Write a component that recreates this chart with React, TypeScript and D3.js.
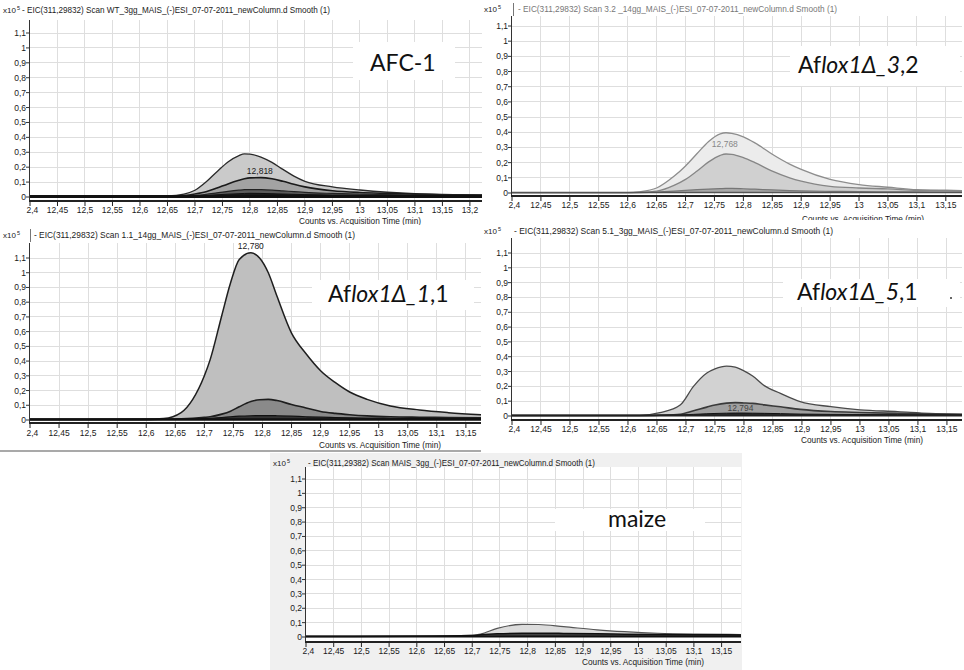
import { useEffect, useRef } from "react";
import * as d3 from "d3";

// tick values shared by all five chromatograms
const xTickValues = [12.4, 12.45, 12.5, 12.55, 12.6, 12.65, 12.7, 12.75, 12.8, 12.85, 12.9, 12.95, 13, 13.05, 13.1, 13.15, 13.2];
const yTickValues = [0, 0.1, 0.2, 0.3, 0.4, 0.5, 0.6, 0.7, 0.8, 0.9, 1, 1.1];

// AFC-1 (wild type)
const afcTime = [12.4, 12.6, 12.65, 12.68, 12.7, 12.72, 12.74, 12.76, 12.78, 12.79, 12.8, 12.82, 12.84, 12.86, 12.88, 12.9, 12.95, 13.0, 13.05, 13.1, 13.15, 13.2, 13.23];
const afcOuter = [0.006, 0.006, 0.008, 0.02, 0.045, 0.1, 0.17, 0.235, 0.278, 0.289, 0.287, 0.268, 0.232, 0.185, 0.14, 0.105, 0.068, 0.047, 0.032, 0.022, 0.017, 0.014, 0.012];
const afcMid = [0.004, 0.004, 0.005, 0.01, 0.02, 0.035, 0.06, 0.088, 0.112, 0.122, 0.128, 0.13, 0.122, 0.105, 0.085, 0.068, 0.042, 0.03, 0.024, 0.019, 0.015, 0.013, 0.012];
const afcDark = [0.003, 0.003, 0.004, 0.006, 0.01, 0.018, 0.028, 0.038, 0.046, 0.049, 0.05, 0.049, 0.046, 0.041, 0.036, 0.031, 0.024, 0.019, 0.016, 0.014, 0.013, 0.012, 0.011];
const afcBlack = [0.002, 0.002, 0.003, 0.004, 0.006, 0.01, 0.015, 0.019, 0.022, 0.024, 0.025, 0.024, 0.022, 0.02, 0.018, 0.016, 0.013, 0.011, 0.01, 0.009, 0.009, 0.008, 0.008];

// Aflox1Δ_3,2
const lox3Time = [12.4, 12.6, 12.62, 12.65, 12.68, 12.7, 12.72, 12.74, 12.76, 12.77, 12.78, 12.8, 12.82, 12.85, 12.88, 12.9, 12.95, 13.0, 13.05, 13.1, 13.15, 13.18];
const lox3Outer = [0.003, 0.003, 0.008, 0.033, 0.11, 0.178, 0.26, 0.34, 0.39, 0.397, 0.393, 0.37, 0.33, 0.255, 0.19, 0.155, 0.089, 0.055, 0.038, 0.022, 0.018, 0.016];
const lox3Mid = [0.002, 0.002, 0.004, 0.012, 0.05, 0.09, 0.145, 0.205, 0.248, 0.257, 0.255, 0.233, 0.2, 0.144, 0.1, 0.078, 0.044, 0.033, 0.027, 0.018, 0.015, 0.014];
const lox3Low = [0.002, 0.002, 0.003, 0.006, 0.012, 0.017, 0.022, 0.026, 0.029, 0.03, 0.03, 0.028, 0.025, 0.02, 0.016, 0.014, 0.011, 0.009, 0.008, 0.007, 0.006, 0.006];

// Aflox1Δ_1,1
const lox1Time = [12.4, 12.6, 12.63, 12.66, 12.68, 12.7, 12.71, 12.73, 12.745, 12.76, 12.78, 12.795, 12.81, 12.825, 12.85, 12.875, 12.9, 12.925, 12.95, 12.98, 13.02, 13.07, 13.12, 13.18];
const lox1Outer = [0.005, 0.006, 0.01, 0.05, 0.14, 0.3, 0.41, 0.71, 0.93, 1.09, 1.135, 1.1, 1.0, 0.84, 0.59, 0.45, 0.335, 0.255, 0.19, 0.14, 0.095, 0.068, 0.05, 0.034];
const lox1Mid = [0.004, 0.004, 0.005, 0.008, 0.012, 0.018, 0.022, 0.04, 0.06, 0.09, 0.125, 0.138, 0.14, 0.132, 0.105, 0.082, 0.058, 0.045, 0.036, 0.028, 0.022, 0.019, 0.017, 0.015];
const lox1Dark = [0.003, 0.003, 0.004, 0.005, 0.007, 0.01, 0.012, 0.017, 0.022, 0.026, 0.029, 0.03, 0.03, 0.029, 0.026, 0.022, 0.019, 0.017, 0.015, 0.013, 0.012, 0.011, 0.01, 0.01];

// Aflox1Δ_5,1
const lox5Time = [12.4, 12.62, 12.655, 12.69, 12.713, 12.736, 12.75, 12.77, 12.785, 12.8, 12.815, 12.835, 12.863, 12.897, 12.95, 13.0, 13.065, 13.12, 13.18];
const lox5Outer = [0.004, 0.004, 0.022, 0.074, 0.2, 0.29, 0.318, 0.337, 0.33, 0.305, 0.27, 0.205, 0.153, 0.097, 0.063, 0.042, 0.03, 0.018, 0.011];
const lox5Mid = [0.003, 0.003, 0.006, 0.012, 0.035, 0.06, 0.074, 0.087, 0.09, 0.088, 0.085, 0.075, 0.062, 0.045, 0.03, 0.024, 0.018, 0.014, 0.011];
const lox5Dark = [0.002, 0.002, 0.004, 0.007, 0.011, 0.015, 0.017, 0.019, 0.02, 0.02, 0.019, 0.018, 0.016, 0.013, 0.011, 0.01, 0.009, 0.008, 0.007];

// maize control
const maizeTime = [12.4, 12.6, 12.7, 12.715, 12.745, 12.79, 12.82, 12.865, 12.925, 12.975, 13.035, 13.105, 13.2, 13.26];
const maizeOuter = [0.004, 0.006, 0.012, 0.02, 0.06, 0.088, 0.087, 0.072, 0.05, 0.037, 0.026, 0.02, 0.017, 0.016];
const maizeInner = [0.003, 0.005, 0.01, 0.015, 0.022, 0.026, 0.026, 0.025, 0.023, 0.02, 0.018, 0.016, 0.014, 0.013];

const fmt = (v: number) => String(+v.toFixed(2)).replace(".", ",");
const smallFont = "'Liberation Sans', 'DejaVu Sans', sans-serif";
const bigFont = "Lato, 'Open Sans', sans-serif";

const panels = [
  {
    id: "afc",
    box: [0, 0, 481, 225], bg: "#fff",
    left: 30, right: 482, xMax: 13.222, zeroY: 197, topY: 33, plotTop: 20, axisY: 201,
    tickLabelY: 213, countsX: 360, countsY: 224,
    expX: 3, headerX: 22, headerW: 308, headerY: 13, headerColor: "#222", bar: null,
    header: "- EIC(311,29832) Scan WT_3gg_MAIS_(-)ESI_07-07-2011_newColumn.d  Smooth (1)",
    times: afcTime,
    traces: [
      { values: afcOuter, fill: "#cacaca", stroke: "#2a2a2a", w: 1.3 },
      { values: afcMid, fill: "#a3a3a3", stroke: "#1a1a1a", w: 1.6 },
      { values: afcDark, fill: "#5c5c5c", stroke: "#222", w: 1.2 },
      { values: afcBlack, fill: "#1a1a1a", stroke: "#111", w: 1 },
    ],
    baseColor: "#111", baseW: 3,
    peak: { text: "12,818", t: 12.818, v: 0.155, color: "#1a1a1a" },
    labelBox: [353, 42, 102, 38], labelX: 370, labelY: 71, labelSize: 23,
    label: [{ t: "AFC-1", i: false }],
  },
  {
    id: "lox3",
    box: [482, 0, 482, 220], bg: "#fff",
    left: 512, right: 962, xMax: 13.178, zeroY: 193, topY: 26, plotTop: 16, axisY: 196,
    tickLabelY: 208, countsX: 863, countsY: 222,
    expX: 484, headerX: 518, headerW: 319, headerY: 12, headerColor: "#777", bar: 513,
    header: "- EIC(311,29832) Scan 3.2 _14gg_MAIS_(-)ESI_07-07-2011_newColumn.d  Smooth (1)",
    times: lox3Time,
    traces: [
      { values: lox3Outer, fill: "#ececec", stroke: "#8d8d8d", w: 1.3 },
      { values: lox3Mid, fill: "#d0d0d0", stroke: "#868686", w: 1.3 },
      { values: lox3Low, fill: "#a8a8a8", stroke: "#777", w: 1.2 },
    ],
    baseColor: "#555", baseW: 1.5,
    peak: { text: "12,768", t: 12.768, v: 0.3, color: "#888" },
    labelBox: [790, 46, 170, 40], labelX: 798, labelY: 73, labelSize: 23,
    label: [{ t: "Af", i: false }, { t: "lox1Δ_3", i: true }, { t: ",2", i: false }],
  },
  {
    id: "lox1",
    box: [0, 225, 481, 227], bg: "#fff",
    left: 30, right: 481, xMax: 13.176, zeroY: 420, topY: 258, plotTop: 243, axisY: 423,
    tickLabelY: 436, countsX: 380, countsY: 448,
    expX: 3, headerX: 34, headerW: 321, headerY: 238, headerColor: "#222", bar: 30,
    header: "- EIC(311,29832) Scan 1.1_14gg_MAIS_(-)ESI_07-07-2011_newColumn.d  Smooth (1)",
    times: lox1Time,
    traces: [
      { values: lox1Outer, fill: "#bfbfbf", stroke: "#1e1e1e", w: 1.5 },
      { values: lox1Mid, fill: "#8a8a8a", stroke: "#1e1e1e", w: 1.6 },
      { values: lox1Dark, fill: "#333", stroke: "#111", w: 1.2 },
    ],
    baseColor: "#111", baseW: 2.5,
    peak: { text: "12,780", t: 12.78, v: 1.16, color: "#1a1a1a" },
    labelBox: [312, 280, 162, 30], labelX: 328, labelY: 302, labelSize: 23,
    label: [{ t: "Af", i: false }, { t: "lox1Δ_1", i: true }, { t: ",1", i: false }],
    bottomLine: 451,
  },
  {
    id: "lox5",
    box: [482, 220, 482, 230], bg: "#fff",
    left: 512, right: 962, xMax: 13.176, zeroY: 416, topY: 253, plotTop: 238, axisY: 420,
    tickLabelY: 432, countsX: 862, countsY: 443,
    expX: 484, headerX: 514, headerW: 319, headerY: 234, headerColor: "#222", bar: null,
    header: "- EIC(311,29832) Scan 5.1_3gg_MAIS_(-)ESI_07-07-2011_newColumn.d  Smooth (1)",
    times: lox5Time,
    traces: [
      { values: lox5Outer, fill: "#d2d2d2", stroke: "#4a4a4a", w: 1.3 },
      { values: lox5Mid, fill: "#a0a0a0", stroke: "#3a3a3a", w: 1.6 },
      { values: lox5Dark, fill: "#2a2a2a", stroke: "#111", w: 1 },
    ],
    baseColor: "#222", baseW: 2,
    peak: { text: "12,794", t: 12.794, v: 0.035, color: "#444" },
    labelBox: [783, 279, 177, 28], labelX: 797, labelY: 300, labelSize: 23,
    label: [{ t: "Af", i: false }, { t: "lox1Δ_5", i: true }, { t: ",1", i: false }],
    dot: [951, 298],
  },
  {
    id: "maize",
    box: [270, 453, 472, 217], bg: "#f0f0f0",
    left: 306, right: 741, xMax: 13.185, zeroY: 637, topY: 479, plotTop: 467, axisY: 642,
    tickLabelY: 654, countsX: 643, countsY: 665,
    expX: 273, headerX: 308, headerW: 287, headerY: 466, headerColor: "#222", bar: null,
    header: "- EIC(311,29382) Scan MAIS_3gg_(-)ESI_07-07-2011_newColumn.d  Smooth (1)",
    times: maizeTime,
    traces: [
      { values: maizeOuter, fill: "#dcdcdc", stroke: "#555", w: 1.2 },
      { values: maizeInner, fill: "#444", stroke: "#111", w: 1.5 },
    ],
    baseColor: "#111", baseW: 2,
    peak: null,
    labelBox: [555, 509, 150, 22], labelX: 608, labelY: 527, labelSize: 23,
    label: [{ t: "maize", i: false }],
  },
];

function drawPanel(svg: any, p: any) {
  const [bx, by, bw, bh] = p.box;
  const g = svg.append("g");
  g.append("rect").attr("x", bx).attr("y", by).attr("width", bw).attr("height", bh).attr("fill", p.bg);
  g.append("rect")
    .attr("x", p.left).attr("y", p.plotTop)
    .attr("width", p.right - p.left).attr("height", p.axisY - p.plotTop)
    .attr("fill", "#fff");

  const x = d3.scaleLinear().domain([12.4, p.xMax]).range([p.left, p.right]);
  const y = d3.scaleLinear().domain([0, 1.1]).range([p.zeroY, p.topY]);

  const clipId = `clip-${p.id}`;
  const labClip = `lab-${p.id}`;
  const defs = g.append("defs");
  defs.append("clipPath").attr("id", clipId).append("rect")
    .attr("x", p.left).attr("y", p.plotTop).attr("width", p.right - p.left).attr("height", p.axisY - p.plotTop);
  // the first tick label is half hidden behind the y axis, as in the instrument software
  defs.append("clipPath").attr("id", labClip).append("rect")
    .attr("x", p.left - 3.5).attr("y", p.axisY).attr("width", p.right - p.left + 3.5).attr("height", 16);

  const xt = xTickValues.filter((t) => x(t) <= p.right + 0.5);
  const xl = xTickValues.filter((t) => x(t) <= p.right + 6);

  // grid
  const grid = g.append("g").attr("stroke", "#dedede").attr("stroke-width", 1).attr("shape-rendering", "crispEdges");
  grid.selectAll("line.v").data(xt.slice(1)).enter().append("line")
    .attr("x1", (d: number) => x(d)).attr("x2", (d: number) => x(d))
    .attr("y1", p.plotTop).attr("y2", p.axisY);
  grid.selectAll("line.h").data(yTickValues.slice(1)).enter().append("line")
    .attr("x1", p.left).attr("x2", p.right)
    .attr("y1", (d: number) => y(d)).attr("y2", (d: number) => y(d));

  // white box behind the sample label
  const [lx, ly, lw, lh] = p.labelBox;
  g.append("rect").attr("x", lx).attr("y", ly).attr("width", lw).attr("height", lh).attr("fill", "#fff");

  // traces
  const plot = g.append("g").attr("clip-path", `url(#${clipId})`);
  const rows = (vals: number[]) => p.times.map((t: number, i: number) => [t, vals[i]] as [number, number]);
  const area = d3.area<[number, number]>()
    .x((d) => x(d[0])).y0(y(0)).y1((d) => y(d[1]))
    .curve(d3.curveMonotoneX);
  const line = d3.line<[number, number]>()
    .x((d) => x(d[0])).y((d) => y(d[1]))
    .curve(d3.curveMonotoneX);
  p.traces.forEach((tr: any) => {
    plot.append("path").attr("d", area(rows(tr.values))).attr("fill", tr.fill);
    plot.append("path").attr("d", line(rows(tr.values)))
      .attr("fill", "none").attr("stroke", tr.stroke).attr("stroke-width", tr.w);
  });
  plot.append("line")
    .attr("x1", p.left).attr("x2", p.right)
    .attr("y1", y(0) - 0.5).attr("y2", y(0) - 0.5)
    .attr("stroke", p.baseColor).attr("stroke-width", p.baseW);

  if (p.peak) {
    g.append("text")
      .attr("x", x(p.peak.t)).attr("y", y(p.peak.v))
      .attr("text-anchor", "middle")
      .attr("font-family", smallFont).attr("font-size", 8.5)
      .attr("fill", p.peak.color)
      .text(p.peak.text);
  }

  // axes
  g.append("line")
    .attr("x1", p.left - 0.5).attr("x2", p.left - 0.5)
    .attr("y1", p.plotTop).attr("y2", p.axisY)
    .attr("stroke", "#333").attr("stroke-width", 1);
  g.selectAll("line.yt").data(yTickValues).enter().append("line")
    .attr("x1", p.left - 4).attr("x2", p.left)
    .attr("y1", (d: number) => y(d)).attr("y2", (d: number) => y(d))
    .attr("stroke", "#333");
  g.selectAll("text.yl").data(yTickValues).enter().append("text")
    .attr("x", p.left - 4).attr("y", (d: number) => y(d) + 3)
    .attr("text-anchor", "end")
    .attr("font-family", smallFont).attr("font-size", 8.5).attr("fill", "#1a1a1a")
    .text((d: number) => fmt(d));

  g.append("line")
    .attr("x1", p.left - 1).attr("x2", p.right)
    .attr("y1", p.axisY).attr("y2", p.axisY)
    .attr("stroke", "#222").attr("stroke-width", 2);
  g.selectAll("line.xt").data(xt).enter().append("line")
    .attr("x1", (d: number) => x(d)).attr("x2", (d: number) => x(d))
    .attr("y1", p.axisY).attr("y2", p.axisY + 5)
    .attr("stroke", "#222");
  g.append("g").attr("clip-path", `url(#${labClip})`)
    .selectAll("text").data(xl).enter().append("text")
    .attr("x", (d: number) => x(d)).attr("y", p.tickLabelY)
    .attr("text-anchor", "middle")
    .attr("font-family", smallFont).attr("font-size", 8.5).attr("fill", "#1a1a1a")
    .text((d: number) => fmt(d));

  g.append("text")
    .attr("x", p.countsX).attr("y", p.countsY)
    .attr("text-anchor", "middle")
    .attr("font-family", smallFont).attr("font-size", 9).attr("fill", "#1a1a1a")
    .attr("textLength", 122).attr("lengthAdjust", "spacingAndGlyphs")
    .text("Counts vs. Acquisition Time (min)");

  // header
  const ex = g.append("text")
    .attr("x", p.expX).attr("y", p.headerY)
    .attr("font-family", smallFont).attr("font-size", 8).attr("fill", "#222");
  ex.append("tspan").text("x10");
  ex.append("tspan").attr("dx", 1).attr("dy", -3).attr("font-size", 5.5).text("5");
  if (p.bar !== null) {
    g.append("line")
      .attr("x1", p.bar + 0.5).attr("x2", p.bar + 0.5)
      .attr("y1", p.headerY - 9).attr("y2", p.headerY + 4)
      .attr("stroke", "#777");
  }
  g.append("text")
    .attr("x", p.headerX).attr("y", p.headerY)
    .attr("font-family", smallFont).attr("font-size", 8.5).attr("fill", p.headerColor)
    .attr("textLength", p.headerW).attr("lengthAdjust", "spacingAndGlyphs")
    .text(p.header);

  // sample label
  const lab = g.append("text")
    .attr("x", p.labelX).attr("y", p.labelY)
    .attr("font-family", bigFont).attr("font-size", p.labelSize).attr("fill", "#111");
  p.label.forEach((part: any) => {
    lab.append("tspan").attr("font-style", part.i ? "italic" : "normal").text(part.t);
  });
  if (p.dot) {
    g.append("circle").attr("cx", p.dot[0]).attr("cy", p.dot[1]).attr("r", 1).attr("fill", "#333");
  }

  if (p.bottomLine) {
    g.append("line")
      .attr("x1", 0).attr("x2", bx + bw).attr("y1", p.bottomLine).attr("y2", p.bottomLine)
      .attr("stroke", "#555").attr("stroke-width", 1.2);
  }
}

export default function App() {
  const svgRef = useRef<SVGSVGElement>(null);

  useEffect(() => {
    if (!svgRef.current) return;
    const svg = d3.select(svgRef.current);
    svg.selectAll("*").remove();
    svg.append("rect").attr("width", 964).attr("height", 670).attr("fill", "#fff");
    panels.forEach((p) => drawPanel(svg, p));
  }, []);

  return (
    <svg
      ref={svgRef}
      width={964}
      height={670}
      style={{ position: "absolute", left: 0, top: 0, display: "block" }}
    />
  );
}
